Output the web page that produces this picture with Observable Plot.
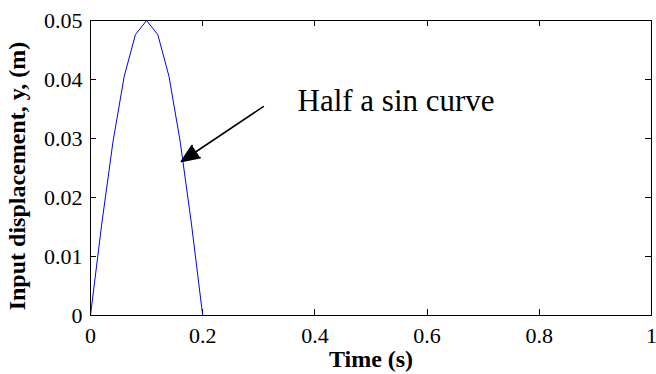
<!DOCTYPE html>
<html>
<head>
<meta charset="utf-8">
<script src="https://cdn.jsdelivr.net/npm/d3@7"></script>
<script src="https://cdn.jsdelivr.net/npm/@observablehq/plot@0.6"></script>
<style>
  body { margin: 0; background: #fff; }
  svg text { font-family: 'Liberation Serif', 'Times New Roman', serif; }
</style>
</head>
<body>
<div id="chart"></div>
<script>
// Data
const time = [0, 0.02, 0.04, 0.06, 0.08, 0.10, 0.12, 0.14, 0.16, 0.18, 0.20, 1.0];
const disp = [0, 0.0155, 0.0294, 0.0405, 0.0476, 0.05, 0.0476, 0.0405, 0.0294, 0.0155, 0, 0];
const xTicks = [0, 0.2, 0.4, 0.6, 0.8, 1];
const yTicks = [0, 0.01, 0.02, 0.03, 0.04, 0.05];
const annotation = ["Half a sin curve"];
const annoX = [0.369];
const annoY = [0.0363];
const arrowFrom = [0.308, 0.0354];
const arrowTo = [0.162, 0.0261];
const xLabel = "Time (s)";
const yLabel = "Input displacement, y, (m)";

const series = time.map((t, i) => ({t, y: disp[i]}));
const fmt = d => d === 0 ? "0" : String(+d.toFixed(2));
const serif = "'Liberation Serif', 'Times New Roman', serif";

const chart = Plot.plot({
  width: 656,
  height: 374,
  marginLeft: 90,
  marginRight: 5,
  marginTop: 20,
  marginBottom: 59,
  style: {fontFamily: serif, fontSize: "22px", color: "black", background: "white"},
  x: {domain: [0, 1]},
  y: {domain: [0, 0.05]},
  marks: [
    Plot.axisX({ticks: xTicks, tickFormat: fmt, tickSize: 0, tickPadding: 12, label: null, fontSize: 22, fontFamily: serif}),
    Plot.axisY({ticks: yTicks, tickFormat: fmt, tickSize: 0, tickPadding: 8, label: null, fontSize: 22, fontFamily: serif}),
    // inward ticks on all four sides
    Plot.ruleX(xTicks, {x: d => d, insetTop: 289, stroke: "black", strokeWidth: 1, shapeRendering: "crispEdges"}),
    Plot.ruleX(xTicks, {x: d => d, insetBottom: 289, stroke: "black", strokeWidth: 1, shapeRendering: "crispEdges"}),
    Plot.ruleY(yTicks, {y: d => d, insetRight: 555, stroke: "black", strokeWidth: 1, shapeRendering: "crispEdges"}),
    Plot.ruleY(yTicks, {y: d => d, insetLeft: 555, stroke: "black", strokeWidth: 1, shapeRendering: "crispEdges"}),
    Plot.line(series, {x: "t", y: "y", stroke: "#0000ff", strokeWidth: 1}),
    Plot.frame({stroke: "black", strokeWidth: 1}),
    Plot.arrow([0], {
      x1: () => arrowFrom[0], y1: () => arrowFrom[1],
      x2: () => arrowTo[0], y2: () => arrowTo[1],
      stroke: "black", fill: "black", strokeWidth: 1.6, headLength: 18, headAngle: 45
    }),
    Plot.text(annotation, {x: (d, i) => annoX[i], y: (d, i) => annoY[i], text: d => d, textAnchor: "start", lineAnchor: "middle", fontSize: 31, fill: "black", fontFamily: serif}),
    Plot.text([xLabel], {frameAnchor: "bottom", dy: 44, text: d => d, textAnchor: "middle", lineAnchor: "middle", fontSize: 24, fontWeight: "bold", fill: "black", fontFamily: serif}),
    Plot.text([yLabel], {frameAnchor: "left", dx: -73, dy: 8, rotate: -90, text: d => d, textAnchor: "middle", lineAnchor: "middle", fontSize: 24, fontWeight: "bold", fill: "black", fontFamily: serif})
  ]
});
document.getElementById("chart").appendChild(chart);
</script>
</body>
</html>
